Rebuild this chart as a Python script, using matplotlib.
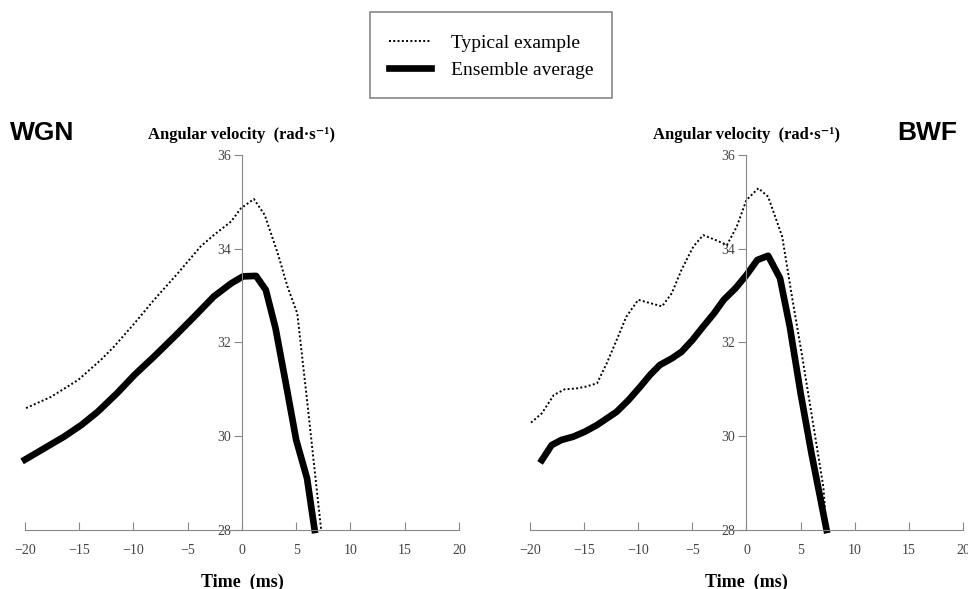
import numpy
from matplotlib import pyplot
from matplotlib.patches import Rectangle

# left panel (WGN)
wgn_avg_t = [-20, -16.4, -14.8, -13.3, -11.5, -9.9, -8.1, -6.2, -4.4, -2.6, -1.0, 0.1, 1.3, 2.2, 3.1, 4.1, 5.0, 6.0, 6.7]
wgn_avg_v = [29.5, 29.99, 30.24, 30.52, 30.92, 31.31, 31.70, 32.13, 32.55, 32.98, 33.26, 33.41, 33.42, 33.12, 32.30, 31.06, 29.92, 29.10, 28.0]
wgn_typ_t = [-19.9, -17.6, -15.1, -13.0, -11.8, -9.9, -8.1, -5.9, -3.8, -2.6, -1.0, -0.1, 1.1, 2.1, 3.3, 4.2, 5.1, 6.0, 7.3]
wgn_typ_v = [30.6, 30.84, 31.2, 31.63, 31.91, 32.41, 32.91, 33.48, 34.05, 34.29, 34.58, 34.86, 35.06, 34.72, 33.9, 33.19, 32.62, 30.77, 28.0]

# right panel (BWF)
bwf_avg_t = [-18.9, -18.0, -17.1, -16.0, -14.9, -13.8, -12.9, -12.0, -10.9, -9.8, -8.9, -8.0, -6.9, -6.0, -5.0, -4.0, -3.0, -2.1, -1.0, 0.0, 1.0, 2.0, 3.1, 4.0, 5.0, 6.0, 7.4]
bwf_avg_v = [29.49, 29.81, 29.92, 29.99, 30.10, 30.24, 30.38, 30.52, 30.77, 31.06, 31.31, 31.52, 31.66, 31.80, 32.05, 32.34, 32.62, 32.91, 33.16, 33.44, 33.76, 33.85, 33.37, 32.34, 30.92, 29.64, 28.0]
bwf_typ_t = [-19.9, -18.9, -17.8, -16.8, -15.7, -14.8, -13.8, -12.9, -12.0, -11.1, -10.0, -8.9, -7.8, -6.9, -6.0, -4.9, -4.0, -2.9, -1.8, -0.9, 0.0, 1.1, 2.0, 3.3, 4.2, 5.1, 6.0, 7.1, 7.4]
bwf_typ_v = [30.29, 30.49, 30.88, 31.0, 31.02, 31.06, 31.13, 31.56, 32.05, 32.55, 32.91, 32.84, 32.77, 33.05, 33.55, 34.05, 34.29, 34.19, 34.08, 34.47, 35.04, 35.29, 35.11, 34.26, 32.98, 31.77, 30.49, 28.92, 28.0]

x_ticks = [-20, -15, -10, -5, 0, 5, 10, 15, 20]
y_ticks = [28, 30, 32, 34, 36]

serif = ['Liberation Serif', 'DejaVu Serif']
grey = '#888888'

fig = pyplot.figure(figsize=(9.68, 5.89), dpi=100)
ax1 = fig.add_axes([0.0258, 0.1002, 0.4483, 0.6367])
ax2 = fig.add_axes([0.5475, 0.1002, 0.4473, 0.6367])

def style_axes(ax):
    ax.set_xlim(-20, 20)
    ax.set_ylim(28, 36)
    ax.spines['top'].set_visible(False)
    ax.spines['right'].set_visible(False)
    ax.spines['left'].set_position(('data', 0))
    ax.spines['left'].set_color(grey)
    ax.spines['bottom'].set_color(grey)
    ax.set_xticks(x_ticks)
    ax.set_yticks(y_ticks)
    ax.set_xticklabels(['\u2212%d' % -t if t < 0 else str(t) for t in x_ticks], family=serif, fontsize=10, color='#444444')
    ax.set_yticklabels([str(t) for t in y_ticks], family=serif, fontsize=10, color='#444444')
    ax.tick_params(axis='x', direction='in', length=6, pad=10, color=grey)
    ax.tick_params(axis='y', direction='out', length=6, pad=2, color=grey)
    ax.text(0, 1.053, 'Angular velocity  (rad\u00b7s\u207b\u00b9)', transform=ax.get_xaxis_transform(),
            ha='center', va='center', family=serif, fontweight='bold', fontsize=12)
    ax.set_xlabel('Time  (ms)', family=serif, fontweight='bold', fontsize=13, labelpad=12)

ax1.plot(wgn_typ_t, wgn_typ_v, color='black', lw=1.4, ls=(0, (1, 1.2)), clip_on=False)
ax1.plot(wgn_avg_t, wgn_avg_v, color='black', lw=4.8, clip_on=False)
ax2.plot(bwf_typ_t, bwf_typ_v, color='black', lw=1.4, ls=(0, (1, 1.2)), clip_on=False, label='Typical example')
ax2.plot(bwf_avg_t, bwf_avg_v, color='black', lw=4.8, clip_on=False, label='Ensemble average')
style_axes(ax1)
style_axes(ax2)

fig.text(0.010, 0.775, 'WGN', fontsize=19, fontweight='bold', family='Liberation Sans', va='center')
fig.text(0.989, 0.775, 'BWF', fontsize=19, fontweight='bold', family='Liberation Sans', va='center', ha='right')

# legend box drawn separately so the padding can differ per side
fig.patches.append(Rectangle((370 / 968, 1 - 98 / 589), 242 / 968, 86 / 589, transform=fig.transFigure,
                             fill=False, edgecolor=grey, linewidth=1.2))
handles, labels = ax2.get_legend_handles_labels()
fig.legend(handles, labels, loc='center', bbox_to_anchor=(491 / 968, 1 - 56.5 / 589), prop={'family': serif, 'size': 14},
           frameon=False, handlelength=2.2, labelspacing=0.5, handletextpad=1.0)

fig.savefig('out.png', dpi=100)
pyplot.close()
